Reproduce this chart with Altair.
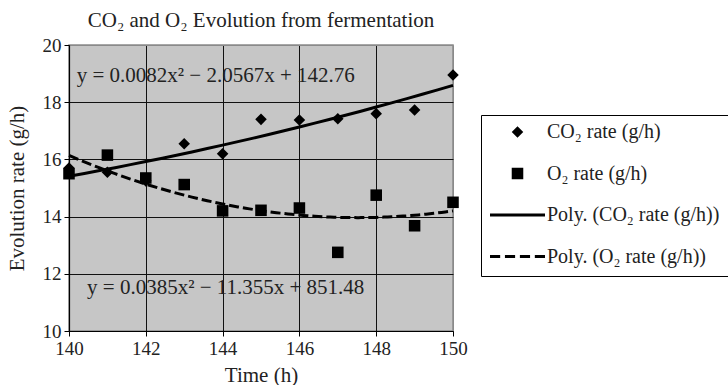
import altair as alt
import pandas as pd

time_h = [140, 141, 142, 143, 144, 145, 146, 147, 148, 149, 150]
co2_rate = [15.7, 15.55, 15.25, 16.55, 16.2, 17.4, 17.38, 17.42, 17.6, 17.73, 18.95]
o2_rate = [15.5, 16.15, 15.35, 15.12, 14.2, 14.22, 14.3, 12.75, 14.75, 13.68, 14.5]

series_labels = ["CO₂ rate (g/h)", "O₂ rate (g/h)",
                 "Poly. (CO₂ rate (g/h))", "Poly. (O₂ rate (g/h))"]
equations = ["y = 0.0082x² − 2.0567x + 142.76", "y = 0.0385x² − 11.355x + 851.48"]
eq_x = [140.2, 140.47]
eq_y = [18.92, 11.5]

FONT = "Liberation Serif"

# custom symbol paths (unit coords)
diamond = "M0,-0.21L0.21,0L0,0.21L-0.21,0Z"
square = "M-0.21,-0.21H0.21V0.21H-0.21Z"
solid = "M-1,-0.055H1V0.055H-1Z"
dashed = ("M-1,-0.055H-0.63V0.055H-1Z M-0.457,-0.055H-0.087V0.055H-0.457Z "
          "M0.087,-0.055H0.457V0.055H0.087Z M0.63,-0.055H1V0.055H0.63Z")

pts = pd.DataFrame({
    "time": time_h + time_h,
    "rate": co2_rate + o2_rate,
    "series": [series_labels[0]] * len(time_h) + [series_labels[1]] * len(time_h),
})
co2_df = pd.DataFrame({"time": time_h, "rate": co2_rate})
o2_df = pd.DataFrame({"time": time_h, "rate": o2_rate})
eq_df = pd.DataFrame({"x": eq_x, "y": eq_y, "text": equations})

xscale = alt.Scale(domain=[140, 150], nice=False)
yscale = alt.Scale(domain=[10, 20], nice=False)

xaxis = alt.Axis(title="Time (h)", values=[140, 142, 144, 146, 148, 150], format="d",
                 labelFlush=False, titlePadding=6,
                 gridColor={"condition": {"test": "datum.value == 150", "value": "#8a8a8a"}, "value": "#111"})
yaxis = alt.Axis(title="Evolution rate (g/h)", values=[10, 12, 14, 16, 18, 20], format="d",
                 labelFlush=False, titlePadding=15,
                 gridColor={"condition": {"test": "datum.value == 20", "value": "#8a8a8a"}, "value": "#111"})

co2_line = alt.Chart(co2_df).transform_regression(
    "time", "rate", method="poly", order=2
).mark_line(color="black", strokeWidth=3).encode(
    x=alt.X("time:Q", scale=xscale, axis=xaxis),
    y=alt.Y("rate:Q", scale=yscale, axis=yaxis),
)

o2_line = alt.Chart(o2_df).transform_regression(
    "time", "rate", method="poly", order=2
).mark_line(color="black", strokeWidth=3, strokeDash=[10, 4]).encode(
    x=alt.X("time:Q", scale=xscale),
    y=alt.Y("rate:Q", scale=yscale),
)

points = alt.Chart(pts).mark_point(filled=True, color="black", opacity=1, strokeWidth=0, size=3025).encode(
    x=alt.X("time:Q", scale=xscale),
    y=alt.Y("rate:Q", scale=yscale),
    shape=alt.Shape(
        "series:N",
        scale=alt.Scale(domain=series_labels, range=[diamond, square, solid, dashed]),
        legend=alt.Legend(
            title=None, orient="none", legendX=412, legendY=70,
            symbolSize=3025, clipHeight=16, rowPadding=21.5,
            symbolFillColor="black", symbolStrokeWidth=0, symbolOpacity=1,
            labelFont=FONT, labelFontSize=20, labelColor="#222", labelOffset=2,
            labelLimit=400,
            strokeColor="black", fillColor="white", padding=9,
        ),
    ),
)

texts = alt.Chart(eq_df).mark_text(align="left", baseline="middle", font=FONT, fontSize=21, color="#222").encode(
    x=alt.X("x:Q", scale=xscale),
    y=alt.Y("y:Q", scale=yscale),
    text="text:N",
)

chart = alt.layer(co2_line, o2_line, points, texts).properties(
    width=384, height=286,
    title=alt.Title("CO₂ and O₂ Evolution from fermentation", font=FONT, fontSize=21,
                    fontWeight="normal", color="#222", offset=5),
    autosize=alt.AutoSizeParams(type="none"),
    padding={"left": 69, "top": 45, "right": 275, "bottom": 54},
).configure_view(
    fill="#c6c6c6", stroke="#8a8a8a", strokeWidth=1.5
).configure_axis(
    labelFont=FONT, titleFont=FONT, labelFontSize=19, titleFontSize=21,
    titleFontWeight="normal", labelColor="#222", titleColor="#222",
    domainColor="black", domainWidth=1.2, tickColor="black", tickSize=5,
    gridWidth=1, gridOpacity=1, labelPadding=3,
)

chart.save("out.html", embed_options={"renderer": "svg", "actions": False})
